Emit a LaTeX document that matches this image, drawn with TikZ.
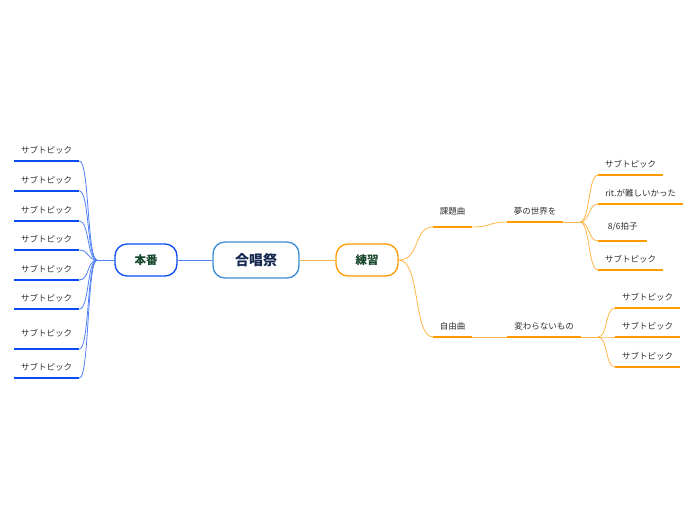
\documentclass[tikz,border=0pt]{standalone}
\usepackage{fontspec}
\setmainfont{Noto Sans CJK JP}
\usetikzlibrary{positioning}
\definecolor{orng}{HTML}{FF9A00}
\definecolor{orlite}{HTML}{FFB547}
\definecolor{bluu}{HTML}{0B4BF5}
\definecolor{bllite}{HTML}{4F80F6}
\definecolor{skyb}{HTML}{3A8DD6}
\definecolor{navy}{HTML}{142850}
\definecolor{pine}{HTML}{17472A}
\definecolor{txt}{HTML}{303030}
\tikzset{
  every node/.style={font=\fontsize{8.5}{10}\selectfont,text=txt},
  root/.style={draw=skyb,line width=1.3pt,rounded corners=12pt,fill=white,minimum width=86,minimum height=36,font=\bfseries\fontsize{14}{16}\selectfont,text=navy},
  mainbox/.style={draw=#1,line width=1.3pt,rounded corners=12pt,fill=white,minimum width=62,minimum height=32,font=\bfseries\fontsize{11.5}{14}\selectfont,text=pine},
  topic/.style={anchor=south west,inner sep=0,minimum height=22,minimum width=#1},
  uline/.style={draw=#1,line width=2.4pt},
  lnk/.style={draw=#1,line width=.8pt}
}
\begin{document}
\begin{tikzpicture}[x=1pt,y=-1pt]
  \path[use as bounding box] (0,0) rectangle (696,520);

  \node[root] (chor) at (256,260) {合唱祭};
  \node[mainbox=orng] (prac) at (367,260) {練習};
  \node[mainbox=bluu] (show) at (146,260) {本番};

  % right branch
  \node[topic=39,minimum height=30] (kadai) at (433,227) {課題曲};
  \node[topic=39] (jiyu) at (433,337) {自由曲};
  \node[topic=56] (yume) at (507,222) {夢の世界を};
  \node[topic=74] (kawa) at (507,337) {変わらないもの};
  \node[topic=65] (y1) at (598,175) {サブトピック};
  \node[topic=85] (y2) at (598,204) {rit.が難しいかった};
  \node[topic=49,minimum height=28] (y3) at (598,241) {8/6拍子};
  \node[topic=65] (y4) at (598,270) {サブトピック};
  \node[topic=65] (k1) at (615,308) {サブトピック};
  \node[topic=65] (k2) at (615,337) {サブトピック};
  \node[topic=65] (k3) at (615,367) {サブトピック};
  \coordinate (yj) at (580,222);
  \coordinate (kj) at (598,337);

  % left branch
  \foreach \i/\y in {1/161,2/191,3/221,4/250,5/280,6/309,8/378}
    \node[topic=65] (s\i) at (14,\y) {サブトピック};
  \node[topic=65,minimum height=32] (s7) at (14,349) {サブトピック};
  \coordinate (jl) at (97,260);

  \draw[lnk=orlite] (chor.east) -- (prac.west);
  \draw[lnk=bllite] (chor.west) -- (show.east);
  \draw[lnk=orlite] (prac.east) .. controls +(22,0) and +(-20,0) .. (kadai.south west);
  \draw[lnk=orlite] (prac.east) .. controls +(22,0) and +(-20,0) .. (jiyu.south west);
  \draw[lnk=orlite] (kadai.south east) .. controls +(18,0) and +(-18,0) .. (yume.south west);
  \draw[lnk=orlite] (jiyu.south east) -- (kawa.south west);
  \draw[lnk=orlite] (yume.south east) -- (yj);
  \foreach \n in {y1,y2,y3,y4}
    \draw[lnk=orlite] (yj) .. controls +(10,0) and +(-10,0) .. (\n.south west);
  \draw[lnk=orlite] (kawa.south east) -- (kj);
  \foreach \n in {k1,k2,k3}
    \draw[lnk=orlite] (kj) .. controls +(10,0) and +(-10,0) .. (\n.south west);
  \draw[lnk=bllite] (show.west) -- (jl);
  \foreach \i in {1,...,8}
    \draw[lnk=bllite] (jl) .. controls +(-10,0) and +(10,0) .. (s\i.south east);

  % underlines
  \foreach \n in {kadai,jiyu,yume,kawa,y1,y2,y3,y4,k1,k2,k3}
    \draw[uline=orng] (\n.south west) -- (\n.south east);
  \foreach \i in {1,...,8}
    \draw[uline=bluu] (s\i.south west) -- (s\i.south east);
\end{tikzpicture}
\end{document}
